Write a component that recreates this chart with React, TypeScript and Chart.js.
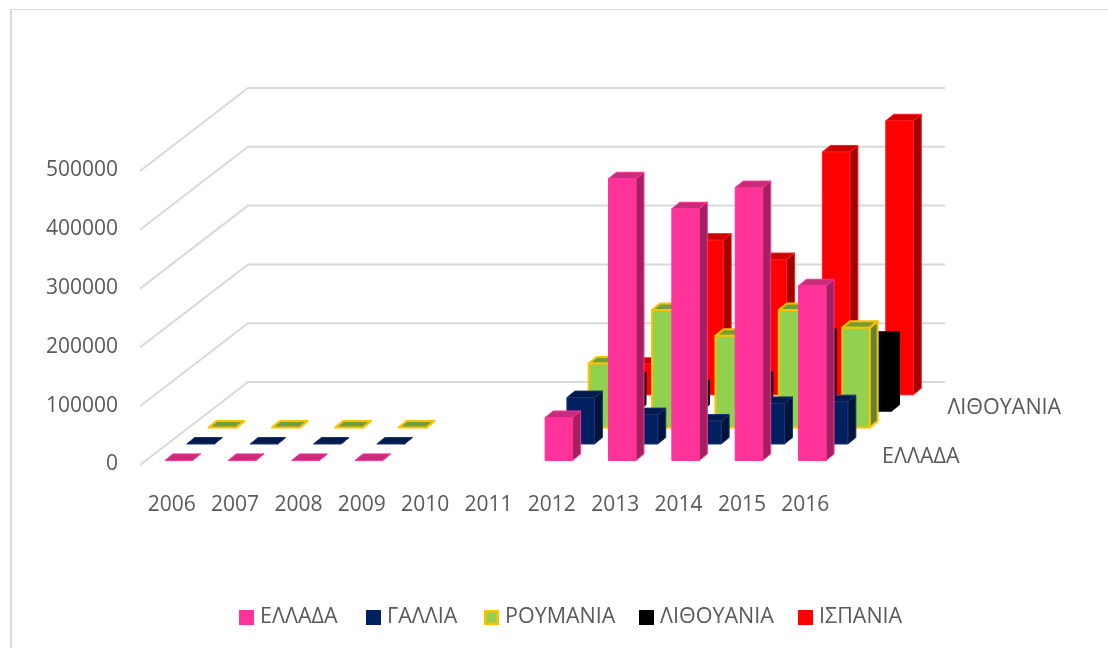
import React, { useEffect, useRef } from "react";
import { Chart, BarController, registerables } from "chart.js";

const years = ["2006", "2007", "2008", "2009", "2010", "2011", "2012", "2013", "2014", "2015", "2016"];
const seriesNames = ["ΕΛΛΑΔΑ", "ΓΑΛΛΙΑ", "ΡΟΥΜΑΝΙΑ", "ΛΙΘΟΥΑΝΙΑ", "ΙΣΠΑΝΙΑ"];
const ellada = [0, 0, 0, 0, null, null, 73000, 479000, 428000, 464000, 297000];
const gallia = [0, 0, 0, 0, null, null, 79000, 50000, 39000, 69000, 72000];
const roumania = [0, 0, 0, 0, null, null, 109000, 200000, 156000, 200000, 170000];
const lithouania = [null, null, null, null, null, null, 55000, 42000, 56000, 129000, 124000];
const ispania = [null, null, null, null, null, null, 52000, 263000, 230000, 413000, 466000];
const seriesValues = [ellada, gallia, roumania, lithouania, ispania];

const frontColors = ["#FF3399", "#002060", "#92D050", "#000000", "#FF0000"];
const topColors = ["#C92C7A", "#001A4D", "#6F9E3A", "#000000", "#CC0000"];
const sideColors = ["#A3205F", "#00133A", "#5F8433", "#000000", "#A30000"];
const edgeColors = ["#FF3399", "#1A3672", "#FFC000", "#000000", "#FF1A1A"];
const edgeWidths = [1, 1, 2, 1, 1];

const FONT = '"Open Sans", sans-serif';
const TEXT = "#595959";
const GRID = "#D9D9D9";
const DEPTH_X = 108;
const DEPTH_Y = 83;
const ROW_X = 21.8;
const ROW_Y = 16.4;
const BAR_DX = 8;
const BAR_DY = 6.5;
const FIRST_X = 7;
const FIRST_Y = 4.6;

function poly(ctx: CanvasRenderingContext2D, pts: number[][], fill: string, edge: string, lw: number) {
  ctx.beginPath();
  pts.forEach((p, i) => (i ? ctx.lineTo(p[0], p[1]) : ctx.moveTo(p[0], p[1])));
  ctx.closePath();
  ctx.fillStyle = fill;
  ctx.fill();
  ctx.strokeStyle = edge;
  ctx.lineWidth = lw;
  ctx.lineJoin = "round";
  ctx.stroke();
}

class Bar3D extends BarController {
  static id = "bar3d";
  static defaults = BarController.defaults;
  static overrides = BarController.overrides;
  draw() {
    const chart: any = (this as any).chart;
    const ctx: CanvasRenderingContext2D = chart.ctx;
    const meta: any = (this as any)._cachedMeta;
    const row: number = (this as any).index;
    const offX = FIRST_X + row * ROW_X;
    const offY = FIRST_Y + row * ROW_Y;
    const edge = edgeColors[row];
    const lw = edgeWidths[row];
    ctx.save();
    meta.data.forEach((el: any, i: number) => {
      const v = meta._parsed[i]?.y;
      if (v === null || v === undefined || Number.isNaN(v)) return;
      const p = el.getProps(["x", "y", "base", "width"], true);
      const l = p.x - p.width / 2 + offX;
      const r = l + p.width;
      const b = p.base - offY;
      const t = p.y - offY;
      poly(ctx, [[r, b], [r + BAR_DX, b - BAR_DY], [r + BAR_DX, t - BAR_DY], [r, t]], sideColors[row], edge, lw);
      poly(ctx, [[l, t], [r, t], [r + BAR_DX, t - BAR_DY], [l + BAR_DX, t - BAR_DY]], topColors[row], edge, lw);
      if (b > t) poly(ctx, [[l, b], [r, b], [r, t], [l, t]], frontColors[row], edge, lw);
    });
    ctx.restore();
  }
}

const wallsPlugin = {
  id: "walls",
  beforeDatasetsDraw(chart: any) {
    const { ctx, scales, chartArea } = chart;
    ctx.save();
    // frame
    ctx.strokeStyle = GRID;
    ctx.lineWidth = 1;
    ctx.beginPath();
    ctx.moveTo(10, 9.5);
    ctx.lineTo(1108, 9.5);
    ctx.stroke();
    ctx.lineWidth = 2;
    ctx.beginPath();
    ctx.moveTo(11, 9);
    ctx.lineTo(11, 648);
    ctx.stroke();
    // gridlines on side wall and back wall
    ctx.lineWidth = 2;
    ctx.lineJoin = "miter";
    scales.y.ticks.forEach((tick: any) => {
      const y = scales.y.getPixelForValue(tick.value);
      ctx.beginPath();
      ctx.moveTo(chartArea.left, y);
      ctx.lineTo(chartArea.left + DEPTH_X, y - DEPTH_Y);
      ctx.lineTo(chartArea.right + DEPTH_X, y - DEPTH_Y);
      ctx.stroke();
    });
    ctx.restore();
  },
  afterDatasetsDraw(chart: any) {
    const { ctx, chartArea } = chart;
    ctx.save();
    ctx.font = `21.5px ${FONT}`;
    ctx.fillStyle = TEXT;
    ctx.textBaseline = "middle";
    ctx.textAlign = "left";
    // series (depth) axis labels: every third row
    [0, 3].forEach((row) => {
      ctx.fillText(seriesNames[row], chartArea.right + 45 + row * ROW_X, chartArea.bottom - 8 - row * ROW_Y);
    });
    // legend
    const legendX = [239, 366, 484, 639, 798];
    const textX = [260, 387, 505, 660, 819];
    seriesNames.forEach((name, i) => {
      ctx.fillStyle = i === 2 ? "#FFC000" : frontColors[i];
      ctx.fillRect(legendX[i], 610, 15, 15);
      if (i === 2) {
        ctx.fillStyle = frontColors[i];
        ctx.fillRect(legendX[i] + 2.5, 612.5, 10, 10);
      }
      ctx.fillStyle = TEXT;
      ctx.fillText(name, textX[i], 617);
    });
    ctx.restore();
  },
};

Chart.register(...registerables, Bar3D as any);

export default function App() {
  const ref = useRef<HTMLCanvasElement>(null);
  useEffect(() => {
    document.body.style.margin = "0";
    const chart = new Chart(ref.current!, {
      type: "bar3d" as any,
      plugins: [wallsPlugin],
      data: {
        labels: years,
        datasets: seriesNames.map((name, i) => ({
          label: name,
          data: seriesValues[i],
          backgroundColor: frontColors[i],
          grouped: false,
          barThickness: 27.5,
          clip: false,
        })) as any,
      },
      options: {
        responsive: false,
        animation: false,
        layout: { padding: { left: 0, right: 271, top: 171, bottom: 0 } },
        plugins: { legend: { display: false }, tooltip: { enabled: false } },
        events: [],
        scales: {
          x: {
            type: "category",
            offset: true,
            grid: { display: false },
            border: { display: false },
            afterFit: (s: any) => { s.height = 183; },
            ticks: { color: TEXT, font: { family: FONT, size: 21 }, padding: 19, maxRotation: 0, autoSkip: false },
          },
          y: {
            type: "linear",
            min: 0,
            max: 500000,
            grid: { display: false },
            border: { display: false },
            afterFit: (s: any) => { s.width = 140; },
            ticks: {
              stepSize: 100000,
              color: TEXT,
              font: { family: FONT, size: 21 },
              padding: 14,
              labelOffset: -0.5,
              callback: (v: any) => String(v),
            },
          },
        },
      } as any,
    });
    return () => chart.destroy();
  }, []);
  return <canvas ref={ref} width={1108} height={648} style={{ display: "block" }} />;
}
